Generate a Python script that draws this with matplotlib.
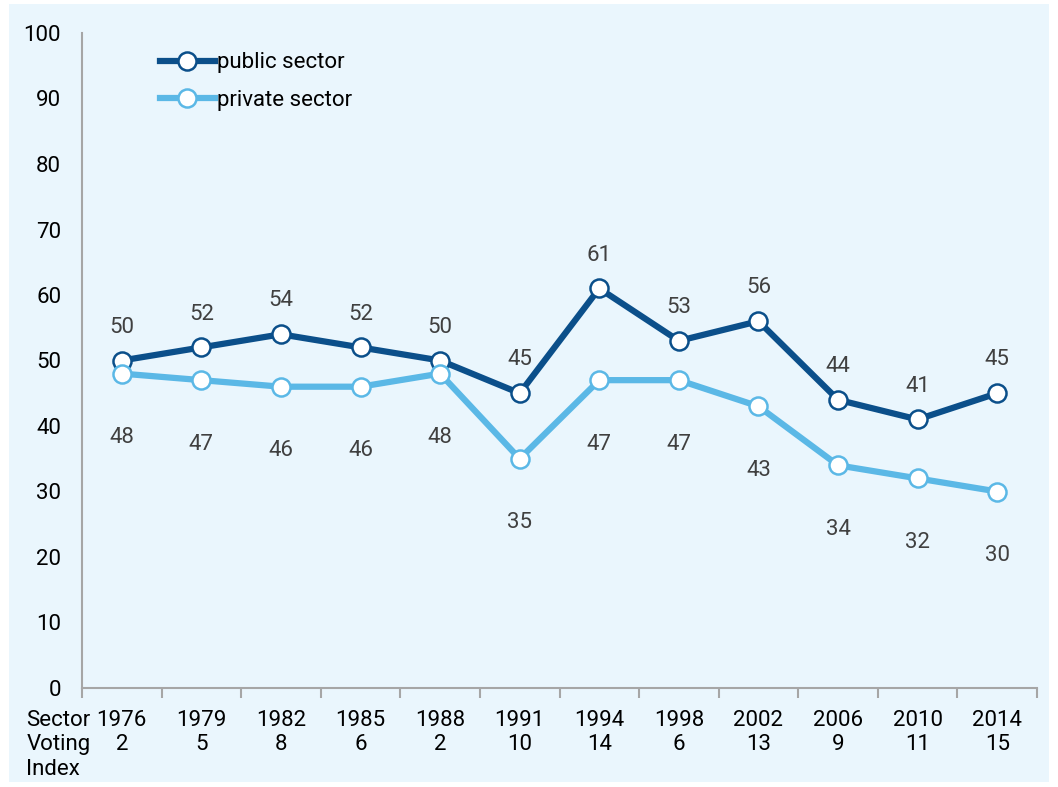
import matplotlib.pyplot as plt
from matplotlib.patches import Rectangle

years = ['1976', '1979', '1982', '1985', '1988', '1991', '1994', '1998', '2002', '2006', '2010', '2014']
voting_index = [2, 5, 8, 6, 2, 10, 14, 6, 13, 9, 11, 15]
public = [50, 52, 54, 52, 50, 45, 61, 53, 56, 44, 41, 45]
private = [48, 47, 46, 46, 48, 35, 47, 47, 43, 34, 32, 30]

plt.rcParams['font.family'] = ['Roboto', 'DejaVu Sans']

dark = '#0b4f8a'
light = '#5bb8e6'
bg = '#eaf6fd'
grey = '#a6a6a6'

fig = plt.figure(figsize=(10.58, 7.87), dpi=100, facecolor='white')
fig.patches.append(Rectangle((9 / 1058, 5 / 787), 1040 / 1058, 778 / 787,
                             transform=fig.transFigure, facecolor=bg, edgecolor='none', zorder=-5))
ax = fig.add_axes([82 / 1058, 1 - 688 / 787, (1037 - 82) / 1058, (688 - 33) / 787])
ax.set_facecolor(bg)

x = list(range(len(years)))
ax.plot(x, public, color=dark, lw=4.5, marker='o', ms=13, mfc='white', mec=dark, mew=1.8,
        label='public sector', zorder=3)
ax.plot(x, private, color=light, lw=4.5, marker='o', ms=13, mfc='white', mec=light, mew=1.8,
        label='private sector', zorder=3)

for i in x:
    ax.annotate(str(public[i]), (i, public[i]), xytext=(0, 24), textcoords='offset points',
                ha='center', va='center', fontsize=16, color='#404040')
    ax.annotate(str(private[i]), (i, private[i]), xytext=(0, -46), textcoords='offset points',
                ha='center', va='center', fontsize=16, color='#404040')

ax.set_xlim(-0.5, len(years) - 0.5)
ax.set_ylim(0, 100)
ax.set_yticks(range(0, 101, 10))
ax.tick_params(axis='y', length=0, labelsize=16, pad=15)
ax.set_xticks([i + 0.5 for i in range(-1, len(years))])
ax.set_xticklabels([])
ax.tick_params(axis='x', length=7, color=grey, width=1.5, direction='out')
for s in ['top', 'right']:
    ax.spines[s].set_visible(False)
for s in ['left', 'bottom']:
    ax.spines[s].set_color(grey)
    ax.spines[s].set_linewidth(1.5)

trans = ax.get_xaxis_transform()
for i in x:
    ax.text(i, -0.05, years[i], transform=trans, ha='center', va='center', fontsize=16)
    ax.text(i, -0.087, str(voting_index[i]), transform=trans, ha='center', va='center', fontsize=16)
for k, word in enumerate(['Sector', 'Voting', 'Index']):
    ax.text(-1.2, -0.05 - k * 0.037, word, transform=trans, ha='left', va='center', fontsize=16)

ax.legend(loc='upper left', bbox_to_anchor=(0.072, 0.984), frameon=False, fontsize=16,
          handlelength=2.5, handletextpad=0.1, labelspacing=0.75, borderaxespad=0)

fig.savefig('out.png', dpi=100, facecolor='white')
